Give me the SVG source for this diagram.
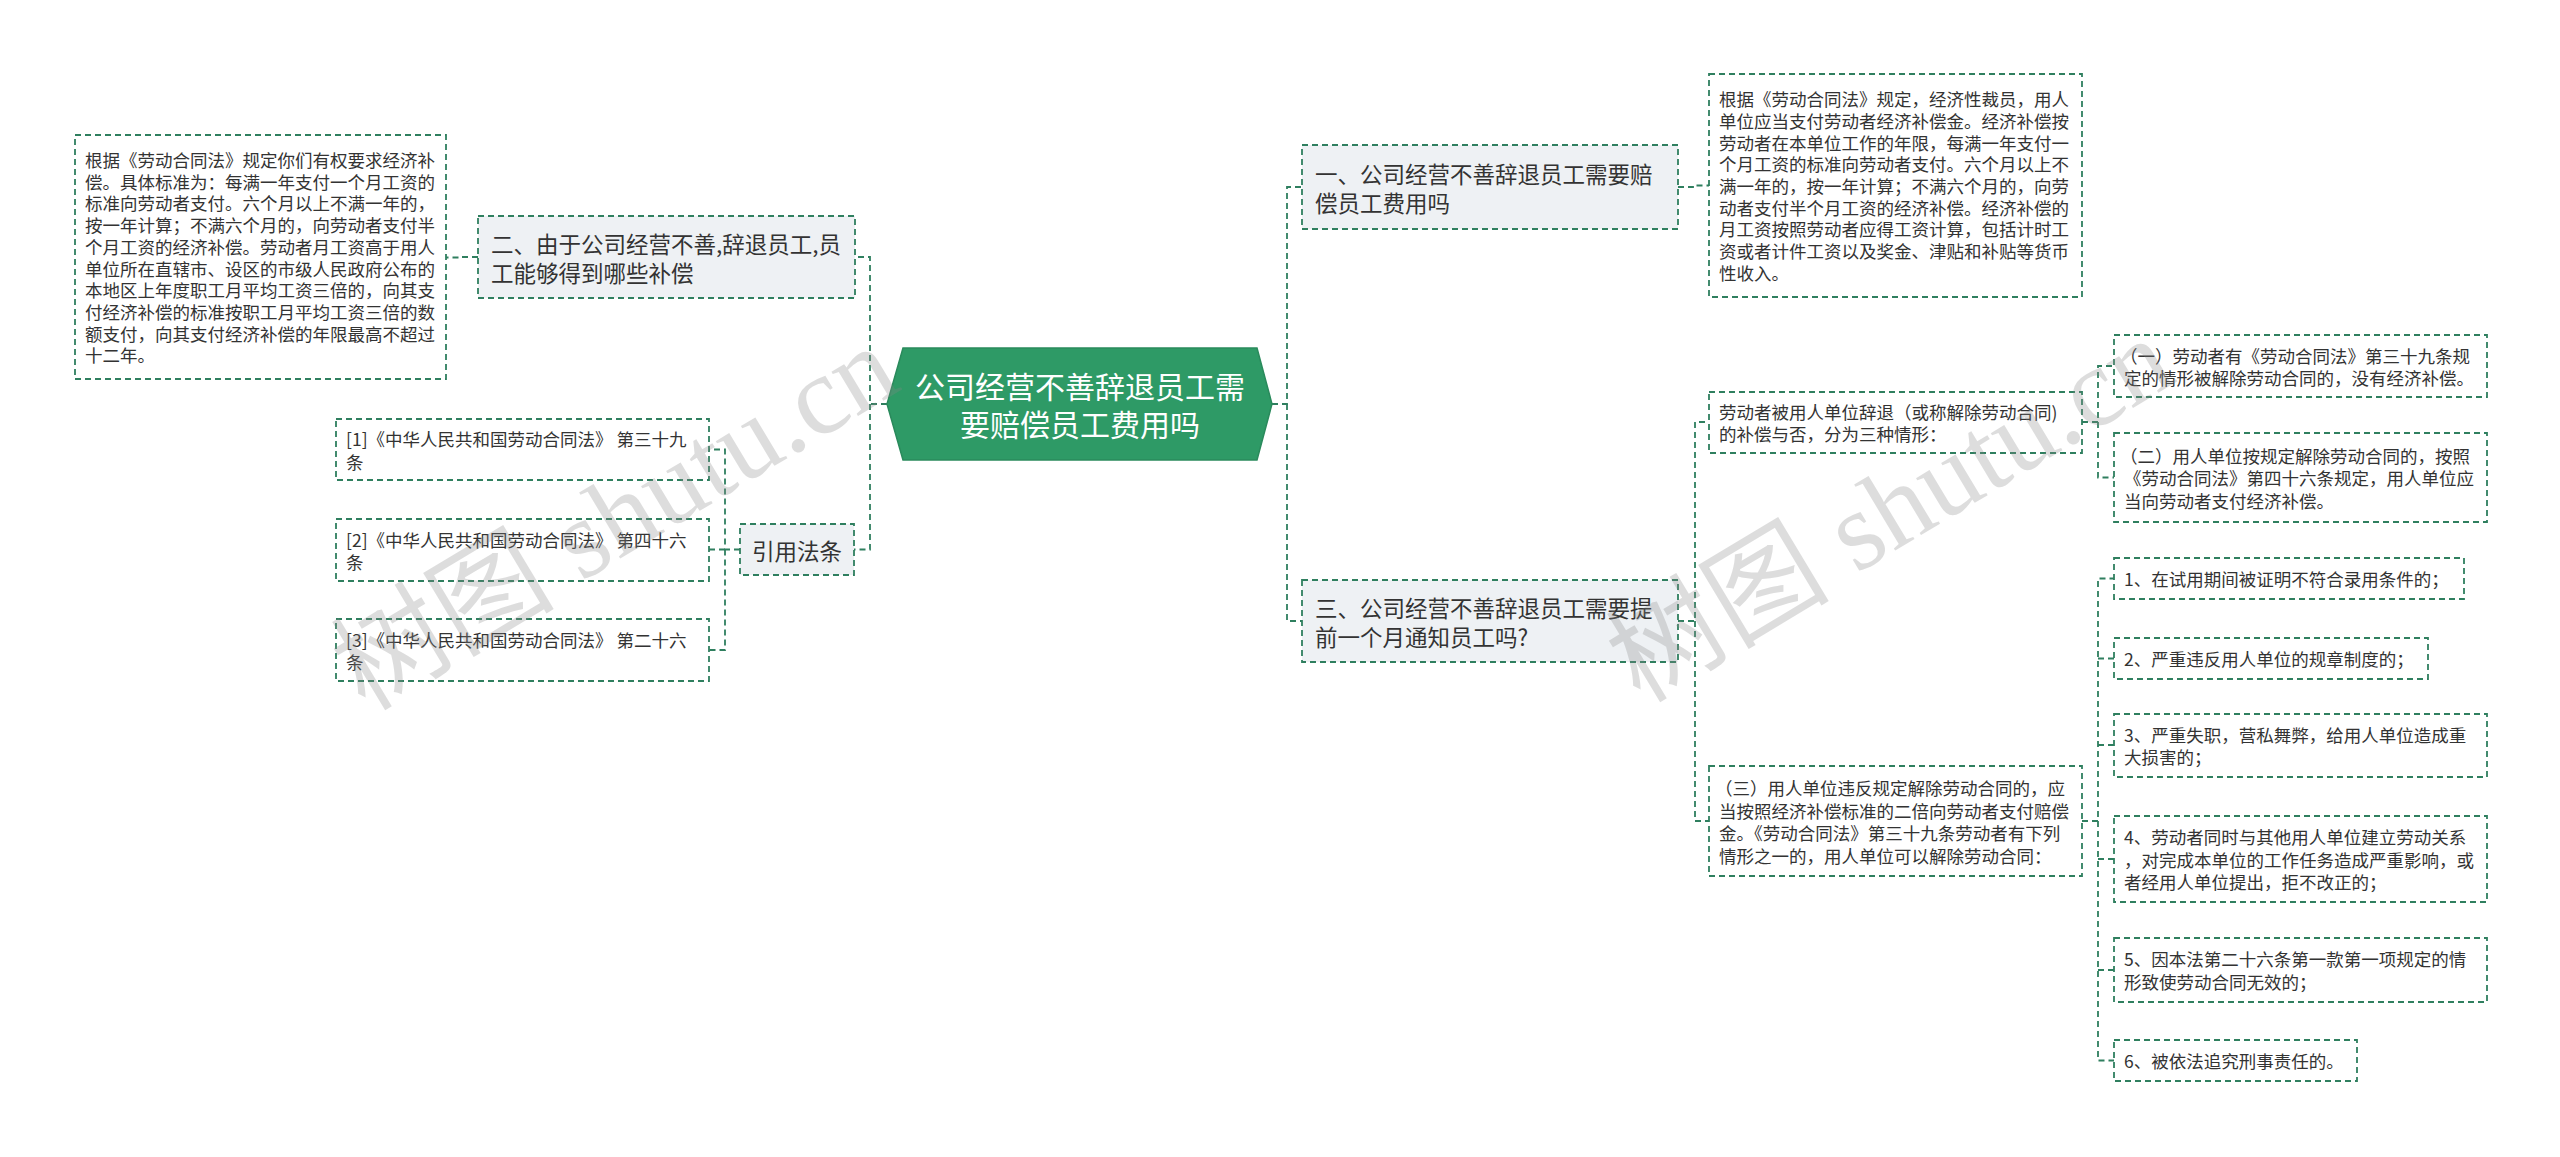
<svg xmlns="http://www.w3.org/2000/svg" width="2560" height="1157" viewBox="0 0 2560 1157">
<style>
.bx{fill:#ffffff;stroke:#2f7f5f;stroke-width:1.8;stroke-dasharray:6 4}
.mid{fill:#eef1f4;stroke:#2f7f5f;stroke-width:1.8;stroke-dasharray:6 4}
.cn{fill:none;stroke:#2f7f5f;stroke-width:1.8;stroke-dasharray:6 4}
.s{font-family:"Noto Sans CJK SC","Noto Sans",sans-serif;font-size:17.5px;fill:#333333;dominant-baseline:central}
.m{font-family:"Noto Sans CJK SC","Noto Sans",sans-serif;font-size:22.5px;fill:#333333;dominant-baseline:central}
.r{font-family:"Noto Sans CJK SC","Noto Sans",sans-serif;font-size:30px;fill:#ffffff;dominant-baseline:central;text-anchor:middle}
.wm{font-family:"Liberation Serif","Noto Sans CJK SC",serif;font-size:112px;fill:#888888;opacity:0.28}
</style>
<rect width="2560" height="1157" fill="#ffffff"/>
<g id="connectors">
<path class="cn" d="M887,404 H870 V257 H855"/>
<path class="cn" d="M870,404 V549.5 H854"/>
<path class="cn" d="M478,257 H462 V257.5 H446"/>
<path class="cn" d="M740,549.5 H725 V449.5 H709"/>
<path class="cn" d="M725,549.5 V650 H709"/>
<path class="cn" d="M725,549.5 H709"/>
<path class="cn" d="M1272,404 H1287 V187 H1302"/>
<path class="cn" d="M1287,404 V621 H1302"/>
<path class="cn" d="M1678,187 H1693 V185.5 H1709"/>
<path class="cn" d="M1678,621 H1695 V422 H1709"/>
<path class="cn" d="M1695,621 V821 H1709"/>
<path class="cn" d="M2082,422 H2098 V366 H2114"/>
<path class="cn" d="M2098,422 V477.5 H2114"/>
<path class="cn" d="M2082,821 H2098 V578.5 H2114"/>
<path class="cn" d="M2098,658.5 H2114"/>
<path class="cn" d="M2098,745 H2114"/>
<path class="cn" d="M2098,821 V1060.5 H2114"/>
<path class="cn" d="M2098,859 H2114"/>
<path class="cn" d="M2098,970 H2114"/>
</g>
<g id="root">
<polygon points="887,404 903,348 1257,348 1272,404 1257,460 903,460" fill="#2e9a66" stroke="#2a8a5c" stroke-width="1.5"/>
<text class="r" x="1080" y="385">公司经营不善辞退员工需</text>
<text class="r" x="1080" y="423">要赔偿员工费用吗</text>
</g>
<g id="n2">
<rect class="mid" x="478" y="216" width="377" height="82"/>
<text class="m" x="491" y="243">二、由于公司经营不善,辞退员工,员</text>
<text class="m" x="491" y="272">工能够得到哪些补偿</text>
</g>
<g id="n2a">
<rect class="bx" x="75" y="135" width="371" height="244"/>
<text class="s" x="85" y="159.5">根据《劳动合同法》规定你们有权要求经济补</text>
<text class="s" x="85" y="181.2">偿。具体标准为：每满一年支付一个月工资的</text>
<text class="s" x="85" y="202.9">标准向劳动者支付。六个月以上不满一年的，</text>
<text class="s" x="85" y="224.6">按一年计算；不满六个月的，向劳动者支付半</text>
<text class="s" x="85" y="246.3">个月工资的经济补偿。劳动者月工资高于用人</text>
<text class="s" x="85" y="268">单位所在直辖市、设区的市级人民政府公布的</text>
<text class="s" x="85" y="289.7">本地区上年度职工月平均工资三倍的，向其支</text>
<text class="s" x="85" y="311.4">付经济补偿的标准按职工月平均工资三倍的数</text>
<text class="s" x="85" y="333.1">额支付，向其支付经济补偿的年限最高不超过</text>
<text class="s" x="85" y="354.8">十二年。</text>
</g>
<g id="law">
<rect class="mid" x="740" y="524" width="114" height="51"/>
<text class="m" x="752" y="549.5">引用法条</text>
</g>
<g id="law1">
<rect class="bx" x="336" y="419" width="373" height="61"/>
<text class="s" x="346" y="438.5">[1]《中华人民共和国劳动合同法》 第三十九</text>
<text class="s" x="346" y="461">条</text>
</g>
<g id="law2">
<rect class="bx" x="336" y="519" width="373" height="62"/>
<text class="s" x="346" y="539">[2]《中华人民共和国劳动合同法》 第四十六</text>
<text class="s" x="346" y="561.5">条</text>
</g>
<g id="law3">
<rect class="bx" x="336" y="619" width="373" height="62"/>
<text class="s" x="346" y="639">[3]《中华人民共和国劳动合同法》 第二十六</text>
<text class="s" x="346" y="661.5">条</text>
</g>
<g id="n1">
<rect class="mid" x="1302" y="145" width="376" height="84"/>
<text class="m" x="1315" y="173">一、公司经营不善辞退员工需要赔</text>
<text class="m" x="1315" y="202">偿员工费用吗</text>
</g>
<g id="n1a">
<rect class="bx" x="1709" y="74" width="373" height="223"/>
<text class="s" x="1719" y="98.7">根据《劳动合同法》规定，经济性裁员，用人</text>
<text class="s" x="1719" y="120.4">单位应当支付劳动者经济补偿金。经济补偿按</text>
<text class="s" x="1719" y="142.1">劳动者在本单位工作的年限，每满一年支付一</text>
<text class="s" x="1719" y="163.8">个月工资的标准向劳动者支付。六个月以上不</text>
<text class="s" x="1719" y="185.5">满一年的，按一年计算；不满六个月的，向劳</text>
<text class="s" x="1719" y="207.2">动者支付半个月工资的经济补偿。经济补偿的</text>
<text class="s" x="1719" y="228.9">月工资按照劳动者应得工资计算，包括计时工</text>
<text class="s" x="1719" y="250.6">资或者计件工资以及奖金、津贴和补贴等货币</text>
<text class="s" x="1719" y="272.3">性收入。</text>
</g>
<g id="n3">
<rect class="mid" x="1302" y="580" width="376" height="82"/>
<text class="m" x="1315" y="607">三、公司经营不善辞退员工需要提</text>
<text class="m" x="1315" y="636">前一个月通知员工吗?</text>
</g>
<g id="n3a">
<rect class="bx" x="1709" y="392" width="373" height="61"/>
<text class="s" x="1719" y="411">劳动者被用人单位辞退（或称解除劳动合同)</text>
<text class="s" x="1719" y="433.5">的补偿与否，分为三种情形：</text>
</g>
<g id="n3a1">
<rect class="bx" x="2114" y="335" width="373" height="62"/>
<text class="s" x="2120" y="355">（一）劳动者有《劳动合同法》第三十九条规</text>
<text class="s" x="2124" y="377.5">定的情形被解除劳动合同的，没有经济补偿。</text>
</g>
<g id="n3a2">
<rect class="bx" x="2114" y="433" width="373" height="89"/>
<text class="s" x="2120" y="455">（二）用人单位按规定解除劳动合同的，按照</text>
<text class="s" x="2124" y="477.5">《劳动合同法》第四十六条规定，用人单位应</text>
<text class="s" x="2124" y="500">当向劳动者支付经济补偿。</text>
</g>
<g id="n3b">
<rect class="bx" x="1709" y="766" width="373" height="110"/>
<text class="s" x="1715" y="787.5">（三）用人单位违反规定解除劳动合同的，应</text>
<text class="s" x="1719" y="810">当按照经济补偿标准的二倍向劳动者支付赔偿</text>
<text class="s" x="1719" y="832.5">金。《劳动合同法》第三十九条劳动者有下列</text>
<text class="s" x="1719" y="855">情形之一的，用人单位可以解除劳动合同：</text>
</g>
<g id="c1">
<rect class="bx" x="2114" y="558" width="350" height="41"/>
<text class="s" x="2124" y="578.5">1、在试用期间被证明不符合录用条件的；</text>
</g>
<g id="c2">
<rect class="bx" x="2114" y="638" width="314" height="41"/>
<text class="s" x="2124" y="658.5">2、严重违反用人单位的规章制度的；</text>
</g>
<g id="c3">
<rect class="bx" x="2114" y="714" width="373" height="63"/>
<text class="s" x="2124" y="734">3、严重失职，营私舞弊，给用人单位造成重</text>
<text class="s" x="2124" y="756.5">大损害的；</text>
</g>
<g id="c4">
<rect class="bx" x="2114" y="816" width="373" height="86"/>
<text class="s" x="2124" y="836.5">4、劳动者同时与其他用人单位建立劳动关系</text>
<text class="s" x="2124" y="859">，对完成本单位的工作任务造成严重影响，或</text>
<text class="s" x="2124" y="881.5">者经用人单位提出，拒不改正的；</text>
</g>
<g id="c5">
<rect class="bx" x="2114" y="938" width="373" height="64"/>
<text class="s" x="2124" y="958.5">5、因本法第二十六条第一款第一项规定的情</text>
<text class="s" x="2124" y="981">形致使劳动合同无效的；</text>
</g>
<g id="c6">
<rect class="bx" x="2114" y="1040" width="243" height="41"/>
<text class="s" x="2124" y="1060.5">6、被依法追究刑事责任的。</text>
</g>
<g id="watermark">
<text class="wm" x="365" y="712" transform="rotate(-31 365 712)">树图 shutu.cn</text>
<text class="wm" x="1640" y="704" transform="rotate(-31 1640 704)">树图 shutu.cn</text>
</g>
</svg>
